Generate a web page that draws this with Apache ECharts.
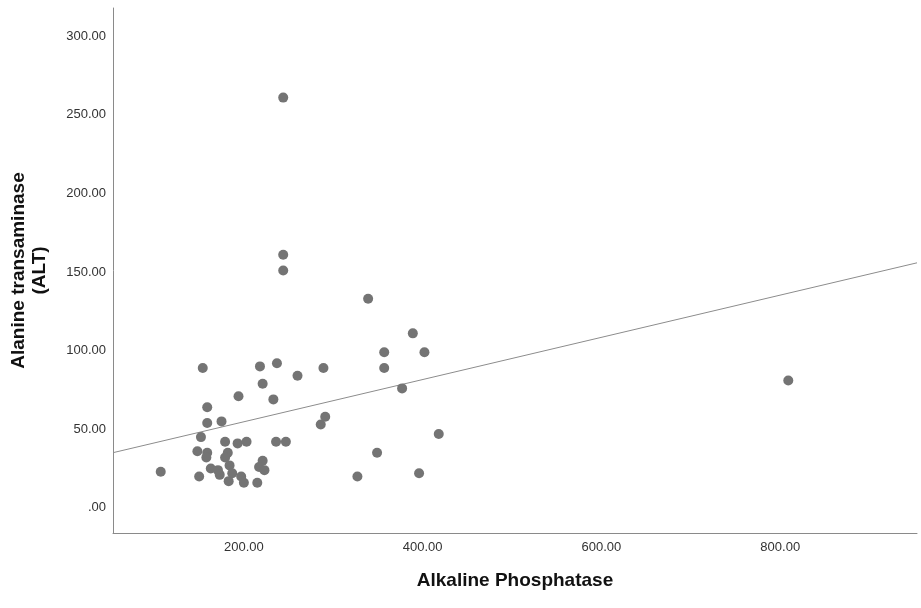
<!DOCTYPE html>
<html>
<head>
<meta charset="utf-8">
<script src="https://cdn.jsdelivr.net/npm/echarts@6/dist/echarts.min.js"></script>
<style>
    html, body { margin: 0; padding: 0; background: #fff; }
    #chart { width: 921px; height: 608px; }
</style>
</head>
<body>
<div id="chart"></div>
<script>
// Alkaline Phosphatase (x) vs ALT (y)
var alp = [107, 150, 148, 159, 158, 152, 159, 159, 154, 163,
    171, 173, 175, 179, 182, 179, 184, 183, 187, 193,
    194, 197, 200, 203, 218, 221, 221, 217, 223, 215,
    233, 236, 237, 244, 244, 244, 247, 260, 289, 286,
    291, 327, 339, 349, 357, 357, 377, 389, 396, 402,
    418, 809];
var alt = [23, 20, 36, 35, 32, 45, 54, 64, 89, 25,
    24, 21, 55, 42, 35, 32, 27, 17, 22, 41,
    71, 20, 16, 42, 90, 79, 30, 26, 24, 16,
    69, 42, 92, 261, 161, 151, 42, 84, 89, 53,
    58, 20, 133, 35, 99, 89, 76, 111, 22, 99,
    47, 81];
// fit line (total)
var fitIntercept = 27.9, fitSlope = 0.1343;
var xRange = [53.6, 953];
var yRange = [-16, 318];

var points = alp.map(function (v, i) { return [v, alt[i]]; });
var fitLine = xRange.map(function (x) { return [x, fitIntercept + fitSlope * x]; });

var fmt = function (v) {
    var s = v.toFixed(2);
    return s.indexOf('0.') === 0 ? s.slice(1) : s;
};
var axisFont = 'Liberation Sans, Arial, sans-serif';

var chart = echarts.init(document.getElementById('chart'));
chart.setOption({
    animation: false,
    grid: { left: 112, right: 4, top: 8, bottom: 75 },
    xAxis: {
        type: 'value',
        min: xRange[0],
        max: xRange[1],
        splitNumber: 5,
        name: 'Alkaline Phosphatase',
        nameLocation: 'middle',
        nameGap: 38,
        nameTextStyle: { fontFamily: axisFont, fontSize: 19, fontWeight: 'bold', color: '#111' },
        axisLine: { onZero: false, lineStyle: { color: '#8a8a8a', width: 1 } },
        axisTick: { show: false },
        splitLine: { show: false },
        axisLabel: {
            margin: 8,
            fontFamily: axisFont,
            fontSize: 13,
            color: '#333',
            showMinLabel: false,
            showMaxLabel: false,
            formatter: function (v) { return v % 200 === 0 ? fmt(v) : ''; }
        }
    },
    yAxis: {
        type: 'value',
        min: yRange[0],
        max: yRange[1],
        splitNumber: 5,
        name: 'Alanine transaminase\n(ALT)',
        nameLocation: 'middle',
        nameRotate: 90,
        nameGap: 63,
        nameTextStyle: { fontFamily: axisFont, fontSize: 19, fontWeight: 'bold', color: '#111', lineHeight: 21 },
        axisLine: { show: true, onZero: false, lineStyle: { color: '#8a8a8a', width: 1 } },
        axisTick: { show: false },
        splitLine: { show: false },
        axisLabel: {
            margin: 7,
            fontFamily: axisFont,
            fontSize: 13,
            color: '#333',
            showMinLabel: false,
            showMaxLabel: false,
            formatter: function (v) { return v % 50 === 0 ? fmt(v) : ''; }
        }
    },
    series: [
        {
            type: 'line',
            data: fitLine,
            symbol: 'none',
            silent: true,
            lineStyle: { color: '#8c8c8c', width: 1 },
            z: 1
        },
        {
            type: 'scatter',
            data: points,
            symbolSize: 10,
            itemStyle: { color: '#747474', opacity: 1 },
            z: 2
        }
    ]
});
</script>
</body>
</html>
